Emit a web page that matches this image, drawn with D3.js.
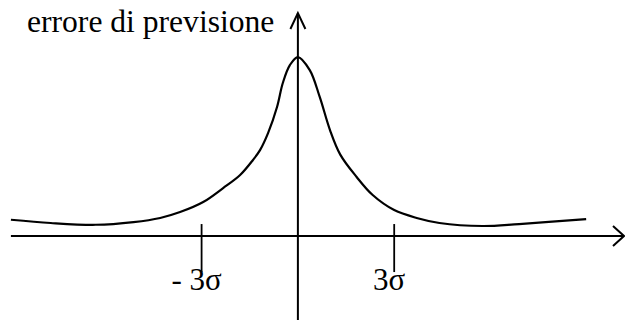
<!DOCTYPE html>
<html>
<head>
<meta charset="utf-8">
<script src="https://cdn.jsdelivr.net/npm/d3@7"></script>
<style>
  html, body { margin: 0; padding: 0; background: #fff; }
  svg { display: block; }
  text { font-family: "Liberation Serif", "Times New Roman", serif; fill: #000; }
</style>
</head>
<body>
<svg id="chart" width="625" height="320"></svg>
<script>
// Deviation from the mean, in units of sigma
const deviation = [-8.94, -7.70, -6.30, -5.12, -4.29, -3.67, -2.95, -2.33, -1.80, -1.40, -1.18, -0.93, -0.65, -0.47, -0.25, 0,
                   0.37, 0.68, 1.0, 1.32, 1.83, 2.33, 3.0, 3.70, 4.41, 5.75, 6.89, 8.98];
// Forecast error (relative to its peak)
const forecastError = [0.091, 0.073, 0.063, 0.078, 0.101, 0.134, 0.190, 0.268, 0.341, 0.425, 0.480, 0.575, 0.721, 0.855, 0.955, 1.0,
                       0.927, 0.777, 0.592, 0.455, 0.330, 0.229, 0.145, 0.101, 0.073, 0.056, 0.067, 0.095];
// Tick marks on the horizontal axis
const tickValues = [-3, 3];
const tickLabels = ["- 3σ", "3σ"];
const yAxisTitle = "errore di previsione";

const width = 625, height = 320;
const svg = d3.select("#chart");

const x = d3.scaleLinear().domain([-9.28, 10.19]).range([0, width]);
const y = d3.scaleLinear().domain([-0.469, 1.246]).range([height, 13]);

const stroke = "#000";

// Horizontal axis with open arrowhead
const xStart = x(deviation[0]);
const xEnd = width - 1;
svg.append("line")
  .attr("x1", xStart).attr("y1", y(0))
  .attr("x2", xEnd).attr("y2", y(0))
  .attr("stroke", stroke).attr("stroke-width", 2);
svg.append("path")
  .attr("d", `M${xEnd - 11},${y(0) - 10} L${xEnd},${y(0)} L${xEnd - 11},${y(0) + 10}`)
  .attr("fill", "none").attr("stroke", stroke).attr("stroke-width", 2);

// Vertical axis with open arrowhead
const yTop = 13;
svg.append("line")
  .attr("x1", x(0)).attr("y1", height)
  .attr("x2", x(0)).attr("y2", yTop)
  .attr("stroke", stroke).attr("stroke-width", 2);
svg.append("path")
  .attr("d", `M${x(0) - 7.5},${yTop + 16} L${x(0)},${yTop} L${x(0) + 7.5},${yTop + 16}`)
  .attr("fill", "none").attr("stroke", stroke).attr("stroke-width", 2);

// Axis title
svg.append("text")
  .attr("x", 27).attr("y", 32)
  .attr("font-size", 31.6)
  .text(yAxisTitle);

// Sigma ticks and labels
const ticks = svg.append("g");
tickValues.forEach((v, i) => {
  ticks.append("line")
    .attr("x1", x(v)).attr("x2", x(v))
    .attr("y1", y(0) - 12).attr("y2", y(0) + 36)
    .attr("stroke", stroke).attr("stroke-width", 1.8);
  ticks.append("text")
    .attr("x", x(v) - 5).attr("y", 290)
    .attr("text-anchor", "middle")
    .attr("font-size", 31)
    .text(tickLabels[i]);
});

// Error curve
const line = d3.line()
  .x((d, i) => x(deviation[i]))
  .y(d => y(d))
  .curve(d3.curveCatmullRom.alpha(0.5));
svg.append("path")
  .datum(forecastError)
  .attr("d", line)
  .attr("fill", "none")
  .attr("stroke", stroke)
  .attr("stroke-width", 2.2);
</script>
</body>
</html>
